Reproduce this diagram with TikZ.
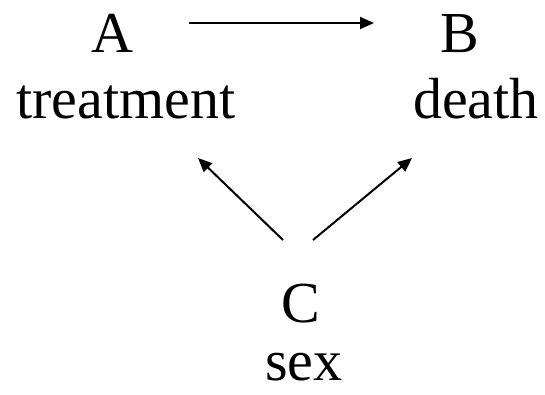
\documentclass[tikz,border=0pt]{standalone}
\usepackage{fontspec}
\setmainfont{Liberation Serif}
\usetikzlibrary{arrows.meta}
\begin{document}
\begin{tikzpicture}[x=1pt,y=-1pt,
  lbl/.style={anchor=base,inner sep=0pt,font=\fontsize{58}{70}\selectfont},
  arr/.style={line width=2pt,-{Triangle[length=14pt,width=12pt]}}]
\useasboundingbox (0,0) rectangle (545,394);
% variables and their names
\node[lbl] (A) at (112,52) {A};
\node[lbl] (treat) at (126,118) {treatment};
\node[lbl] (B) at (460,52) {B};
\node[lbl] (death) at (476,118) {death};
\node[lbl] (C) at (301,322) {C};
\node[lbl] (sex) at (304,380) {sex};
% causal arrows
\draw[arr] ([shift={(77,-29)}]A.base) -- ([shift={(-86,-29)}]B.base);
\draw[arr] ([shift={(-18,-82)}]C.base) -- ([shift={(72,40)}]treat.base);
\draw[arr] ([shift={(12,-82)}]C.base) -- ([shift={(-64,40)}]death.base);
\end{tikzpicture}
\end{document}
